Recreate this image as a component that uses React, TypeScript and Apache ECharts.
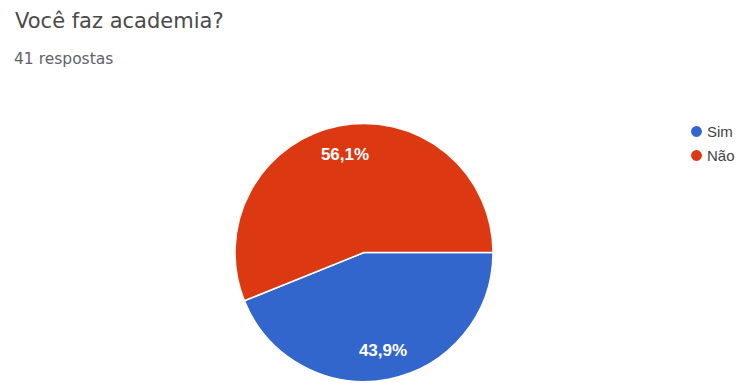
import React, { useEffect, useRef } from "react";
import * as echarts from "echarts";

const titleText = "Você faz academia?";
const subtitleText = "41 respostas";
const categories = ["Sim", "Não"];
const counts = [18, 23];
const colors = ["#3366cc", "#dc3912"];

export default function App() {
  const ref = useRef<HTMLDivElement>(null);
  useEffect(() => {
    if (!ref.current) return;
    const chart = echarts.init(ref.current, null, { renderer: "svg" });
    const data = categories.map((name, i) => ({
      name,
      value: counts[i],
      itemStyle: { color: colors[i] },
    }));
    const total = counts.reduce((a, b) => a + b, 0);
    chart.setOption({
      animation: false,
      backgroundColor: "#ffffff",
      title: [
        {
          text: titleText,
          left: 15,
          top: 10,
          padding: 0,
          textStyle: {
            fontFamily: "DejaVu Sans",
            fontSize: 21,
            fontWeight: "normal",
            color: "#4a4a4a",
          },
        },
        {
          text: subtitleText,
          left: 14,
          top: 51,
          padding: 0,
          textStyle: {
            fontFamily: "DejaVu Sans",
            fontSize: 15.5,
            fontWeight: "normal",
            color: "#5f6368",
          },
        },
      ],
      legend: {
        orient: "vertical",
        left: 689,
        top: 124,
        padding: 0,
        icon: "circle",
        itemWidth: 13,
        itemHeight: 13,
        itemGap: 9,
        textStyle: {
          fontFamily: "Liberation Sans",
          fontSize: 15,
          color: "#444444",
          padding: [0, 0, 0, -1],
        },
        data: categories,
      },
      series: [
        {
          type: "pie",
          center: [364, 252.5],
          radius: [0, 129],
          startAngle: 0,
          clockwise: true,
          data,
          label: { show: false },
          labelLine: { show: false },
          itemStyle: { borderColor: "#ffffff", borderWidth: 1.5 },
          emphasis: { disabled: true },
        },
        {
          type: "pie",
          center: [364, 252.5],
          radius: [64.5, 129],
          startAngle: 0,
          clockwise: true,
          silent: true,
          legendHoverLink: false,
          data: data.map((d) => ({ ...d, itemStyle: { color: "transparent" } })),
          label: {
            show: true,
            position: "inside",
            formatter: (p: any) =>
              ((p.value / total) * 100).toFixed(1).replace(".", ",") + "%",
            color: "#ffffff",
            fontFamily: "Liberation Sans",
            fontSize: 17,
            fontWeight: "bold",
          },
          labelLine: { show: false },
          emphasis: { disabled: true },
        },
      ],
    });
    return () => chart.dispose();
  }, []);
  return (
    <div
      ref={ref}
      style={{ position: "fixed", left: 0, top: 0, width: 743, height: 383 }}
    />
  );
}
